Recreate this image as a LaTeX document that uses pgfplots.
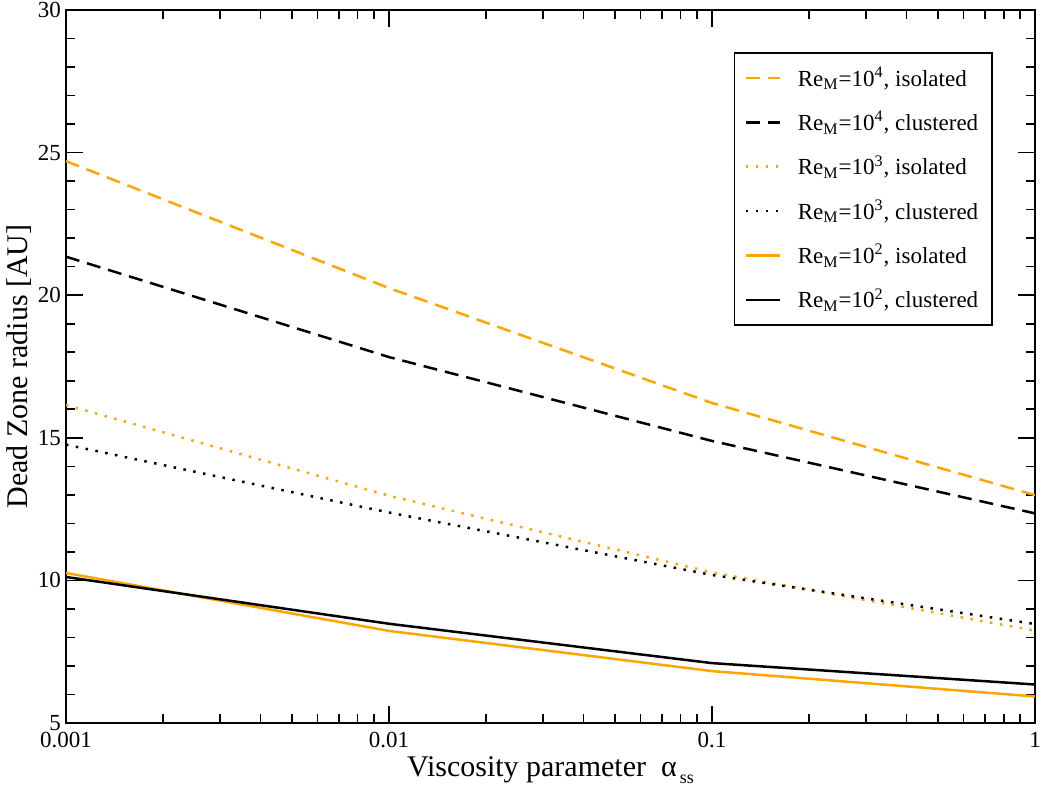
\documentclass[border=0pt]{standalone}
\usepackage{fontspec}
\setmainfont{Liberation Serif}
\usepackage{pgfplots}
\pgfplotsset{compat=1.18}
\definecolor{myorange}{RGB}{255,165,0}
\begin{document}
\begin{tikzpicture}
\begin{axis}[
  scale only axis,
  width=484.5pt, height=356.5pt,
  xmode=log,
  xmin=0.001, xmax=1, ymin=5, ymax=30,
  xtick={0.001,0.01,0.1,1},
  xticklabels={0.001,0.01,0.1,1},
  ytick={5,10,15,20,25,30},
  minor y tick num=4,
  tick align=inside,
  major tick length=8.5pt,
  minor tick length=4.5pt,
  every tick/.style={black, line width=0.8pt},
  axis line style={line width=1pt},
  /pgf/number format/assume math mode=true,
  tick label style={font=\fontsize{11.5}{13}\selectfont},
  xticklabel style={yshift=-1pt},
  yticklabel style={xshift=1pt},
  xlabel={Viscosity parameter\ \ α\raisebox{-0.55ex}{\fontsize{9}{10}\selectfont\,ss}},
  ylabel={Dead Zone radius [AU]},
  label style={font=\fontsize{15}{17}\selectfont},
  xlabel style={at={(axis description cs:0.5,-0.066)}, anchor=center},
  ylabel style={at={(axis description cs:-0.0485,0.5)}, anchor=center},
  legend style={at={(axis description cs:0.9567,0.941)}, anchor=north east,
    draw=black, line width=0.8pt, font=\fontsize{11.5}{13}\selectfont,
    row sep=7pt, inner xsep=5pt, inner ysep=5pt},
  legend cell align=left,
  legend image code/.code={\draw[#1, line width=1.25pt] (0pt,0pt) -- (17pt,0pt); \path[draw=none] (0pt,0pt) -- (24pt,0pt);},
  every axis plot/.append style={line width=1.25pt},
]
\addplot[myorange, dash pattern=on 7pt off 4pt] coordinates {(0.001,24.7) (0.01,20.25) (0.1,16.22) (1,12.99)};
\addlegendentry{Re\textsubscript{M}=10\textsuperscript{4}, isolated}
\addplot[black, dash pattern=on 7pt off 4pt] coordinates {(0.001,21.35) (0.01,17.83) (0.1,14.89) (1,12.35)};
\addlegendentry{Re\textsubscript{M}=10\textsuperscript{4}, clustered}
\addplot[myorange, dash pattern=on 1.25pt off 3.75pt] coordinates {(0.001,16.15) (0.01,12.97) (0.1,10.28) (1,8.24)};
\addlegendentry{Re\textsubscript{M}=10\textsuperscript{3}, isolated}
\addplot[black, dash pattern=on 1.25pt off 3.75pt] coordinates {(0.001,14.76) (0.01,12.38) (0.1,10.19) (1,8.47)};
\addlegendentry{Re\textsubscript{M}=10\textsuperscript{3}, clustered}
\addplot[myorange] coordinates {(0.001,10.26) (0.01,8.23) (0.1,6.82) (1,5.93)};
\addlegendentry{Re\textsubscript{M}=10\textsuperscript{2}, isolated}
\addplot[black] coordinates {(0.001,10.12) (0.01,8.48) (0.1,7.1) (1,6.35)};
\addlegendentry{Re\textsubscript{M}=10\textsuperscript{2}, clustered}
\end{axis}
\pgfresetboundingbox
\path ([shift={(-33pt,-35pt)}]current axis.south west) rectangle ([shift={(4pt,5pt)}]current axis.north east);
\end{tikzpicture}
\end{document}
